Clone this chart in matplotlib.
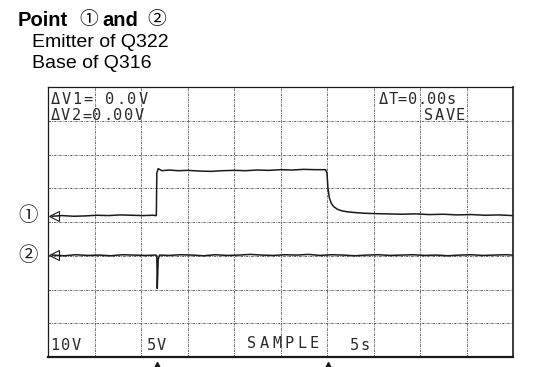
import matplotlib.pyplot as plt

W, H = 539, 367

# trace 1 (emitter of Q322), screen divisions: time 0..10, level 0..8
t1 = [0.09, 0.3, 0.55, 0.8, 1.05, 1.3, 1.55, 1.8, 2.05, 2.25,
      2.33, 2.34, 2.37, 2.45, 2.6, 2.8, 3.0, 3.25, 3.5, 3.75,
      4.0, 4.25, 4.5, 4.75, 5.0, 5.25, 5.5, 5.75, 5.97, 6.0,
      6.02, 6.05, 6.09, 6.14, 6.22, 6.32, 6.45, 6.6, 6.8, 7.0,
      7.3, 7.6, 7.9, 8.2, 8.5, 8.8, 9.1, 9.4, 9.7, 9.98]
v1 = [4.17, 4.19, 4.17, 4.18, 4.20, 4.19, 4.21, 4.20, 4.19, 4.20,
      4.19, 5.45, 5.58, 5.52, 5.54, 5.52, 5.53, 5.51, 5.50, 5.52,
      5.53, 5.52, 5.54, 5.53, 5.55, 5.54, 5.56, 5.55, 5.55, 5.45,
      5.0, 4.72, 4.56, 4.46, 4.38, 4.33, 4.30, 4.28, 4.26, 4.25,
      4.24, 4.23, 4.24, 4.22, 4.23, 4.21, 4.22, 4.20, 4.21, 4.19]

# trace 2 (base of Q316)
t2 = [0.09, 0.35, 0.6, 0.85, 1.1, 1.35, 1.6, 1.85, 2.1, 2.32,
      2.34, 2.35, 2.37, 2.4, 2.6, 2.85, 3.1, 3.35, 3.6, 3.85,
      4.1, 4.35, 4.6, 4.85, 5.1, 5.35, 5.6, 5.85, 6.1, 6.35,
      6.6, 6.85, 7.1, 7.35, 7.6, 7.85, 8.1, 8.35, 8.6, 8.85,
      9.1, 9.35, 9.6, 9.85, 9.98]
v2 = [3.02, 3.00, 3.03, 3.01, 3.02, 3.00, 3.03, 3.02, 3.01, 3.02,
      3.00, 2.03, 2.90, 3.02, 3.01, 3.03, 3.02, 3.00, 3.03, 3.01,
      3.02, 3.04, 3.02, 3.01, 3.03, 3.02, 3.04, 3.01, 3.03, 3.02,
      3.00, 3.02, 3.03, 3.01, 3.02, 3.03, 3.01, 3.02, 3.00, 3.02,
      3.03, 3.01, 3.02, 3.03, 3.02]

cursor_times = [2.34, 6.02]
ground_levels = [4.18, 3.02]
channel_labels = ['①', '②']

ink = '#1a1a1a'
sans = 'Liberation Sans'
circ = ['Noto Sans CJK JP', 'DejaVu Sans']


def px(x, y):
    return x / W, 1 - y / H


def scope_text(x, y, s, pitch, size=11):
    # the scope's character generator uses a wide fixed pitch
    for i, ch in enumerate(s):
        fig.text(*px(x + i * pitch, y), ch, ha='center', va='center',
                 fontsize=size, family='DejaVu Sans Mono', color='#2a2a2a')


fig = plt.figure(figsize=(W / 100, H / 100), dpi=100)

# heading: bold words with thin circled numbers between them
fig.text(*px(18, 26), 'Point', fontsize=14.5, fontweight='bold', family=sans)
fig.text(*px(88.5, 20), '①', fontsize=13.5, family=circ, ha='center', va='center')
fig.text(*px(102, 26), 'and', fontsize=14.5, fontweight='bold', family=sans)
fig.text(*px(156.5, 20), '②', fontsize=13.5, family=circ, ha='center', va='center')
fig.text(*px(32, 47), 'Emitter of Q322', fontsize=14, family=sans)
fig.text(*px(32, 68), 'Base of Q316', fontsize=14, family=sans)

ax = fig.add_axes([48 / W, 10 / H, 465 / W, 270 / H])
ax.set_xlim(0, 10)
ax.set_ylim(0, 8)
ax.set_xticks(range(11))
ax.set_yticks(range(9))
ax.tick_params(length=0, labelbottom=False, labelleft=False)
ax.grid(True, color='#555555', lw=0.6, ls=(0, (3, 1.2, 1, 1.2)))
for side in ax.spines.values():
    side.set_color(ink)
    side.set_linewidth(0.9)
ax.spines['bottom'].set_linewidth(1.6)
ax.spines['right'].set_linewidth(1.2)

ax.plot(t1, v1, color=ink, lw=1.1)
ax.plot(t2, v2, color=ink, lw=1.1)

# ground markers and channel numbers
for lvl, lab in zip(ground_levels, channel_labels):
    ax.plot(0.13, lvl, marker='<', ms=7, mfc='none', mec=ink, mew=0.8,
            clip_on=False)
    ax.text(-0.43, lvl, lab, ha='center', va='center', fontsize=14,
            family=circ, color=ink)

# trigger cursors below the screen
ax.plot(cursor_times, [-0.03] * len(cursor_times), '^', ms=5, color=ink,
        transform=ax.get_xaxis_transform(), clip_on=False)

scope_text(55, 99, ['Δ', 'V', '1', '=', ' ', '0', '.', '0', 'V'], 11)
scope_text(55, 116, ['Δ', 'V', '2', '=', '0', '.', '0', '0', 'V'], 10.5)
scope_text(383, 99, ['Δ', 'T', '=', '0', '.', '0', '0', 's'], 9.7)
scope_text(429, 116, 'SAVE', 10.5)
scope_text(55, 345, '10V', 10.5)
scope_text(151, 345, '5V', 10.5)
scope_text(252, 344, 'SAMPLE', 12.5)
scope_text(354, 345, '5s', 10.5)

fig.savefig('out.png', dpi=100)
